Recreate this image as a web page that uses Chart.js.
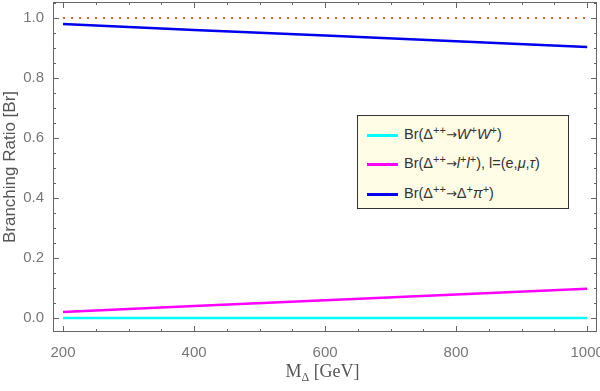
<!DOCTYPE html>
<html>
<head>
<meta charset="utf-8">
<script src="https://cdn.jsdelivr.net/npm/chart.js@4.4.0/dist/chart.umd.min.js"></script>
<style>
  body { margin: 0; background: #fff; }
  #wrap { position: relative; width: 600px; height: 391px; }
  #legenda {
    position: absolute; left: 357px; top: 115px; width: 210px; height: 92px;
    background: #fffde6; border: 1px solid #333;
    font-family: "Liberation Sans", Arial, sans-serif; font-size: 14.5px; color: #333;
  }
  .item { position: absolute; left: 9px; height: 20px; line-height: 20px; white-space: nowrap; }
  .item span.linha { display: inline-block; width: 31px; height: 3px; vertical-align: middle; margin-right: 6px; }
  .seta { font-family: "DejaVu Sans", sans-serif; font-size: 13px; }
  sup { font-size: 11px; vertical-align: 5px; line-height: 0; }
  #tituloX {
    position: absolute; left: 0; width: 645px; top: 361px; text-align: center;
    font-family: "Liberation Serif", serif; font-size: 18px; color: #555;
  }
  #tituloX sub { font-size: 12px; vertical-align: -4px; line-height: 0; }
</style>
</head>
<body>
<div id="wrap">
  <canvas id="grafico" width="600" height="391"></canvas>
  <div id="legenda">
    <div class="item" style="top:8px"><span class="linha" style="background:#00ffff"></span>Br(Δ<sup>++</sup><span class="seta">→</span><i>W</i><sup>+</sup><i>W</i><sup>+</sup>)</div>
    <div class="item" style="top:37px"><span class="linha" style="background:#ff00ff"></span>Br(Δ<sup>++</sup><span class="seta">→</span><i>l</i><sup>+</sup><i>l</i><sup>+</sup>), l=(e,<i>μ</i>,<i>τ</i>)</div>
    <div class="item" style="top:67px"><span class="linha" style="background:#0000ee"></span>Br(Δ<sup>++</sup><span class="seta">→</span>Δ<sup>+</sup><i>π</i><sup>+</sup>)</div>
  </div>
  <div id="tituloX">M<sub>Δ</sub> [GeV]</div>
</div>
<script>
// massas (GeV)
const massas = [200, 400, 600, 800, 1000];
// razoes de ramificacao
const brWW = [0.0, 0.0, 0.0, 0.0, 0.0];
const brLL = [0.020, 0.040, 0.059, 0.078, 0.097];
const brPi = [0.980, 0.960, 0.941, 0.922, 0.903];
const brTotal = [1.0, 1.0, 1.0, 1.0, 1.0];

// marcas dos eixos (as maiores levam rotulo)
const marcasX = [200, 250, 300, 350, 400, 450, 500, 550, 600, 650, 700, 750, 800, 850, 900, 950, 1000];
const rotulosX = [200, 400, 600, 800, 1000];
const marcasY = [0, 0.05, 0.1, 0.15, 0.2, 0.25, 0.3, 0.35, 0.4, 0.45, 0.5, 0.55, 0.6, 0.65, 0.7, 0.75, 0.8, 0.85, 0.9, 0.95, 1.0, 1.05];
const rotulosY = [0, 0.2, 0.4, 0.6, 0.8, 1.0];

function pontos(valores) {
    return massas.map((m, i) => ({ x: m, y: valores[i] }));
}

// tira o espaco extra que o Chart.js reserva para os rotulos das pontas
function semPadding(s) {
    s.paddingTop = 0; s.paddingBottom = 0; s.paddingLeft = 0; s.paddingRight = 0;
}

// moldura e marcas para dentro, estilo Mathematica
const molduraPlugin = {
    id: 'moldura',
    afterDraw(chart) {
        const ctx = chart.ctx;
        const a = chart.chartArea;
        const sx = chart.scales.x, sy = chart.scales.y;
        ctx.save();
        ctx.strokeStyle = '#666';
        ctx.lineWidth = 1;
        ctx.strokeRect(a.left + 0.5, a.top + 0.5, a.right - a.left - 1, a.bottom - a.top - 1);
        ctx.beginPath();
        sx.ticks.forEach(t => {
            const px = Math.round(sx.getPixelForValue(t.value)) + 0.5;
            const len = rotulosX.includes(t.value) ? 6 : 3;
            ctx.moveTo(px, a.bottom); ctx.lineTo(px, a.bottom - len);
            ctx.moveTo(px, a.top); ctx.lineTo(px, a.top + len);
        });
        sy.ticks.forEach(t => {
            const py = Math.round(sy.getPixelForValue(t.value)) + 0.5;
            const len = rotulosY.includes(t.value) ? 6 : 3;
            ctx.moveTo(a.left, py); ctx.lineTo(a.left + len, py);
            ctx.moveTo(a.right, py); ctx.lineTo(a.right - len, py);
        });
        ctx.stroke();
        ctx.restore();
    }
};

const ctx = document.getElementById('grafico').getContext('2d');
const grafico = new Chart(ctx, {
    type: 'line',
    data: {
        datasets: [
            { data: pontos(brTotal), borderColor: '#ea5a2c', borderWidth: 2, borderDash: [2, 6], pointRadius: 0 },
            { data: pontos(brWW), borderColor: '#00ffff', borderWidth: 2.5, pointRadius: 0 },
            { data: pontos(brLL), borderColor: '#ff00ff', borderWidth: 2.5, pointRadius: 0 },
            { data: pontos(brPi), borderColor: '#0000ee', borderWidth: 2.5, pointRadius: 0 }
        ]
    },
    options: {
        responsive: false,
        animation: false,
        layout: { padding: { top: 2, right: 3, left: 0, bottom: 0 } },
        plugins: { legend: { display: false }, tooltip: { enabled: false } },
        scales: {
            x: {
                type: 'linear', min: 184.7, max: 1015,
                grid: { display: false, drawTicks: false },
                border: { display: false },
                afterBuildTicks: s => { s.ticks = marcasX.map(v => ({ value: v })); },
                ticks: {
                    autoSkip: false, maxRotation: 0, padding: 12,
                    color: '#777', font: { family: 'Liberation Sans', size: 15 },
                    callback: v => (rotulosX.includes(v) ? String(v) : '')
                },
                afterFit: s => { s.height = 59; semPadding(s); }
            },
            y: {
                min: -0.047, max: 1.053,
                grid: { display: false, drawTicks: false },
                border: { display: false },
                afterBuildTicks: s => { s.ticks = marcasY.map(v => ({ value: v })); },
                ticks: {
                    autoSkip: false, padding: 9,
                    color: '#777', font: { family: 'Liberation Sans', size: 15 },
                    callback: v => (rotulosY.includes(v) ? v.toFixed(1) : '')
                },
                title: {
                    display: true, text: 'Branching Ratio [Br]', color: '#555', padding: 0,
                    font: { family: 'Liberation Sans', size: 17 }
                },
                afterFit: s => { s.width = 53; semPadding(s); }
            }
        }
    },
    plugins: [molduraPlugin]
});
</script>
</body>
</html>
